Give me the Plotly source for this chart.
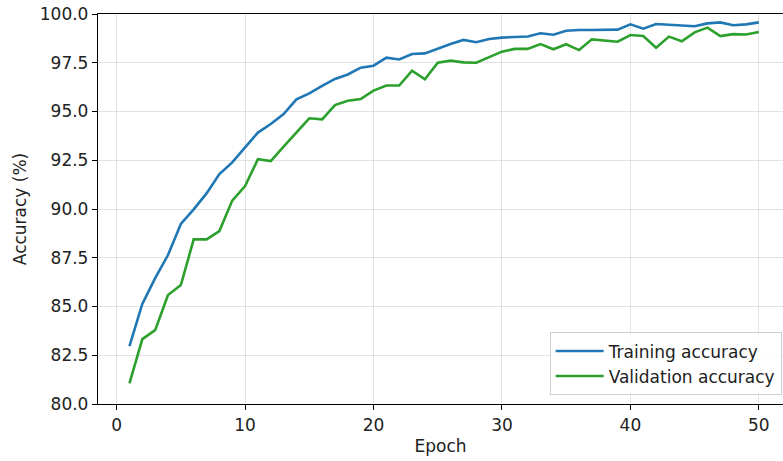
import plotly.graph_objects as go

epochs = list(range(1, 51))

train_acc = [
    82.97, 85.13, 86.45, 87.64, 89.23, 89.98, 90.80, 91.79, 92.39, 93.15,
    93.92, 94.36, 94.87, 95.62, 95.93, 96.31, 96.67, 96.90, 97.25, 97.35,
    97.76, 97.67, 97.95, 97.98, 98.24, 98.46, 98.67, 98.55, 98.72, 98.79,
    98.82, 98.85, 99.01, 98.94, 99.14, 99.18, 99.18, 99.18, 99.20, 99.47,
    99.25, 99.49, 99.45, 99.40, 99.37, 99.52, 99.57, 99.42, 99.47, 99.57,
]

val_acc = [
    81.06, 83.33, 83.79, 85.59, 86.10, 88.44, 88.44, 88.87, 90.43, 91.18,
    92.55, 92.46, 93.20, 93.92, 94.65, 94.60, 95.33, 95.55, 95.64, 96.07,
    96.33, 96.33, 97.09, 96.65, 97.50, 97.61, 97.52, 97.50, 97.78, 98.07,
    98.21, 98.21, 98.46, 98.19, 98.45, 98.15, 98.70, 98.63, 98.58, 98.92,
    98.87, 98.27, 98.84, 98.60, 99.06, 99.30, 98.87, 98.97, 98.95, 99.08,
]

x_ticks = [0, 10, 20, 30, 40, 50]
y_ticks = [80.0, 82.5, 85.0, 87.5, 90.0, 92.5, 95.0, 97.5, 100.0]

fig = go.Figure()
fig.add_trace(go.Scatter(
    x=epochs, y=train_acc, mode="lines", name="Training accuracy",
    line=dict(color="#1f77b4", width=2.6),
))
fig.add_trace(go.Scatter(
    x=epochs, y=val_acc, mode="lines", name="Validation accuracy",
    line=dict(color="#2ca02c", width=2.6),
))

text_font = dict(family="DejaVu Sans", size=17, color="#222222")
grid_color = "rgba(176,176,176,0.35)"

fig.update_layout(
    width=783, height=461,
    margin=dict(l=98, r=0, t=14, b=57),
    paper_bgcolor="white", plot_bgcolor="white",
    font=text_font,
    showlegend=True,
    legend=dict(
        x=0.998, y=0.022, xanchor="right", yanchor="bottom",
        bgcolor="rgba(255,255,255,0.85)",
        bordercolor="#d0d0d0", borderwidth=1,
        font=text_font,
        itemwidth=48,
        tracegroupgap=0,
    ),
    xaxis=dict(
        range=[-1.45, 51.88],
        tickvals=x_ticks,
        showgrid=True, gridcolor=grid_color, gridwidth=1,
        showline=True, linecolor="black", linewidth=1.3, mirror=True,
        ticks="outside", ticklen=5, tickwidth=1.2, tickcolor="black",
        zeroline=False,
        title=dict(text="Epoch", font=text_font, standoff=6),
        tickfont=text_font,
    ),
    yaxis=dict(
        range=[80, 100],
        tickvals=y_ticks,
        tickformat=".1f",
        showgrid=True, gridcolor=grid_color, gridwidth=1,
        showline=True, linecolor="black", linewidth=1.3,
        ticks="outside", ticklen=5, tickwidth=1.2, tickcolor="black",
        zeroline=False,
        title=dict(text="Accuracy (%)", font=text_font, standoff=8),
        tickfont=text_font,
    ),
)

fig.write_html("out.html")
